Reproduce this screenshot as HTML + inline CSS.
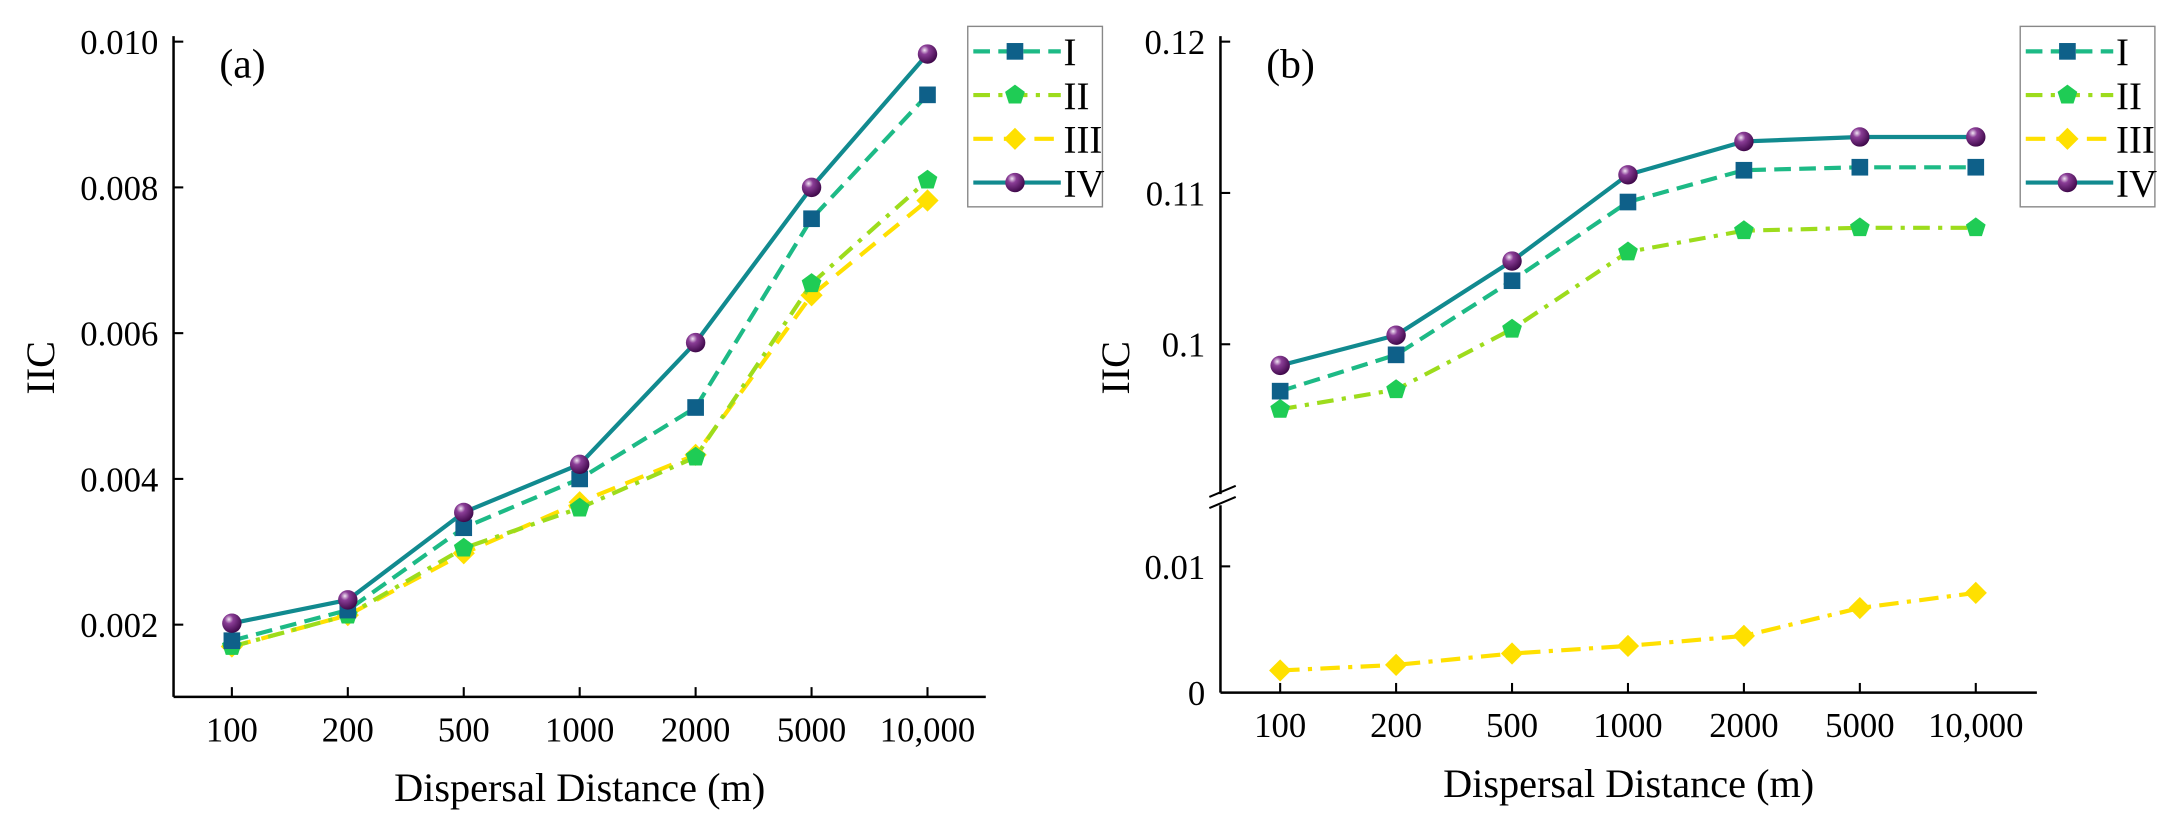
<!DOCTYPE html>
<html><head><meta charset="utf-8"><style>
html,body{margin:0;padding:0;background:#fff;}
svg{display:block;font-family:"Liberation Serif",serif;}
</style></head><body>
<svg id="chart" width="2166" height="819" viewBox="0 0 1560 590" preserveAspectRatio="none" xmlns="http://www.w3.org/2000/svg">
<defs>
<radialGradient id="sph" cx="0.35" cy="0.3" r="0.75">
<stop offset="0" stop-color="#f2e6f4"/><stop offset="0.3" stop-color="#8a3d96"/><stop offset="1" stop-color="#3a0545"/>
</radialGradient>
</defs>
</svg>
<script>
const categories = ["100","200","500","1000","2000","5000","10,000"];
const aSeriesI   = [0.00178,0.00220,0.00333,0.00400,0.00498,0.00757,0.00927];
const aSeriesII  = [0.00170,0.00213,0.00305,0.00360,0.00430,0.00668,0.00810];
const aSeriesIII = [0.00170,0.00213,0.00298,0.00368,0.00433,0.00652,0.00782];
const aSeriesIV  = [0.00202,0.00234,0.00354,0.00420,0.00587,0.00800,0.00983];
const bSeriesI   = [0.0969,0.0993,0.1042,0.1094,0.1115,0.1117,0.1117];
const bSeriesII  = [0.0957,0.0970,0.1010,0.1061,0.1075,0.1077,0.1077];
const bSeriesIII = [0.00176,0.0022,0.0031,0.0037,0.0045,0.0067,0.0079];
const bSeriesIV  = [0.0986,0.1006,0.1055,0.1112,0.1134,0.1137,0.1137];
const aTicks = ["0.002","0.004","0.006","0.008","0.010"];
const aTickVals = [0.002,0.004,0.006,0.008,0.010];
const bUpperTicks = ["0.1","0.11","0.12"];
const bUpperVals = [0.10,0.11,0.12];
const bLowerTicks = ["0","0.01"];
const bLowerVals = [0,0.01];
const legendLabels = ["I","II","III","IV"];

const svg = document.getElementById('chart');
const NS = "http://www.w3.org/2000/svg";
function mk(tag, attrs, parent){const e=document.createElementNS(NS,tag);for(const k in attrs)e.setAttribute(k,attrs[k]);(parent||svg).appendChild(e);return e;}
function txt(s, attrs, parent){const e=mk('text',attrs,parent);e.textContent=s;return e;}

const styles = {
  I:{color:"#1dba86",dash:"12 6",marker:"square",mc:"#0e6089"},
  II:{color:"#9ddc1c",dash:"12 6 3 6",marker:"pent",mc:"#1fcc55"},
  III:{color:"#ffe000",dash:"14 8",marker:"diamond",mc:"#ffe000"},
  IIIb:{color:"#ffe000",dash:"14 6 3 6",marker:"diamond",mc:"#ffe000"},
  IV:{color:"#118a8f",dash:"",marker:"sphere",mc:"#4a0b57"}
};
function marker(kind,x,y,color,g){
  let e;
  if(kind==="square") e=mk('rect',{x:x-6,y:y-6,width:12,height:12,fill:color},g);
  else if(kind==="pent"){let p=[];for(let i=0;i<5;i++){const a=-Math.PI/2+i*2*Math.PI/5;p.push((x+7.5*Math.cos(a)).toFixed(1)+","+(y+7.5*Math.sin(a)).toFixed(1));}e=mk('polygon',{points:p.join(" "),fill:color},g);}
  else if(kind==="diamond") e=mk('polygon',{points:`${x},${y-8} ${x+8},${y} ${x},${y+8} ${x-8},${y}`,fill:color},g);
  else e=mk('circle',{cx:x,cy:y,r:7,fill:"url(#sph)"},g);
  return e;
}
function drawSeries(name,vals,xf,yf,st,panel){
  const g=mk('g',{});
  
  
  const pts=vals.map((v,i)=>xf(i).toFixed(1)+","+yf(v).toFixed(1)).join(" ");
  const l=mk('polyline',{points:pts,fill:"none",stroke:st.color,"stroke-width":3,"stroke-dasharray":st.dash,"stroke-linejoin":"round"},g);
  
  
  vals.forEach((v,i)=>{const m=marker(st.marker,xf(i),yf(v),st.mc,g);
    
    });
}
function drawXAxis(x0,x1,y,xf,panel){
  mk('line',{x1:x0,y1:y,x2:x1,y2:y,stroke:"#000","stroke-width":1.8});
  categories.forEach((c,i)=>{
    mk('line',{x1:xf(i),y1:y,x2:xf(i),y2:y-7,stroke:"#000","stroke-width":1.5});
    const t=txt(c,{x:xf(i),y:y+32,"font-size":25,"text-anchor":"middle"});
    
    
  });
  const tt=txt("Dispersal Distance (m)",{x:(x0+x1)/2,y:y+75,"font-size":29,"text-anchor":"middle"});
  
  
}
function legend(x,panel){
  const g=mk('g',{});
  
  
  mk('rect',{x:x,y:19,width:97,height:130,fill:"#fff",stroke:"#888","stroke-width":1},g);
  const keys=["I","II","III","IV"];
  keys.forEach((k,i)=>{
    const y=37+i*31.5, st=styles[k];
    const e=mk('g',{},g);
    
    
    mk('line',{x1:x+4,y1:y,x2:x+67,y2:y,stroke:st.color,"stroke-width":3,"stroke-dasharray":st.dash},e);
    marker(st.marker,x+34,y,st.mc,e);
    txt(legendLabels[i],{x:x+69,y:y+10,"font-size":28},e);
  });
}

// Panel (a)
const aX=i=>167+i*83.5;
const aY=v=>30+(0.010-v)/0.002*105;
mk('line',{x1:125,y1:26,x2:125,y2:502,stroke:"#000","stroke-width":1.8});
aTickVals.forEach((v,i)=>{
  mk('line',{x1:125,y1:aY(v),x2:132,y2:aY(v),stroke:"#000","stroke-width":1.5});
  const t=txt(aTicks[i],{x:114,y:aY(v)+9,"font-size":25,"text-anchor":"end"});
  
  
});
drawXAxis(125,710,502,aX,'a');
let t=txt("IIC",{x:0,y:0,"font-size":29,"text-anchor":"middle",transform:"translate(39,265) rotate(-90)"});


t=txt("(a)",{x:158,y:56,"font-size":30});


drawSeries("III",aSeriesIII,aX,aY,styles.III,'a');
drawSeries("II",aSeriesII,aX,aY,styles.II,'a');
drawSeries("I",aSeriesI,aX,aY,styles.I,'a');
drawSeries("IV",aSeriesIV,aX,aY,styles.IV,'a');
legend(697,'a');

// Panel (b)
const bX=i=>922+i*83.5;
const bYu=v=>30+(0.12-v)/0.01*109;
const bYl=v=>499-v/0.01*91;
mk('line',{x1:879,y1:26,x2:879,y2:356,stroke:"#000","stroke-width":1.8});
mk('line',{x1:879,y1:364,x2:879,y2:499,stroke:"#000","stroke-width":1.8});
mk('line',{x1:871,y1:358,x2:890,y2:350,stroke:"#000","stroke-width":1.5});
mk('line',{x1:871,y1:366,x2:890,y2:358,stroke:"#000","stroke-width":1.5});
bUpperVals.forEach((v,i)=>{
  mk('line',{x1:879,y1:bYu(v),x2:886,y2:bYu(v),stroke:"#000","stroke-width":1.5});
  const t=txt(bUpperTicks[i],{x:868,y:bYu(v)+9,"font-size":25,"text-anchor":"end"});
  
  
});
bLowerVals.forEach((v,i)=>{
  if(v>0) mk('line',{x1:879,y1:bYl(v),x2:886,y2:bYl(v),stroke:"#000","stroke-width":1.5});
  const t=txt(bLowerTicks[i],{x:868,y:bYl(v)+9,"font-size":25,"text-anchor":"end"});
  
  
});
drawXAxis(879,1467,499,bX,'b');
t=txt("IIC",{x:0,y:0,"font-size":29,"text-anchor":"middle",transform:"translate(813,265) rotate(-90)"});


t=txt("(b)",{x:912,y:56,"font-size":30});


drawSeries("III",bSeriesIII,bX,bYl,styles.IIIb,'b');
drawSeries("II",bSeriesII,bX,bYu,styles.II,'b');
drawSeries("I",bSeriesI,bX,bYu,styles.I,'b');
drawSeries("IV",bSeriesIV,bX,bYu,styles.IV,'b');
legend(1455,'b');
</script>
</body></html>
